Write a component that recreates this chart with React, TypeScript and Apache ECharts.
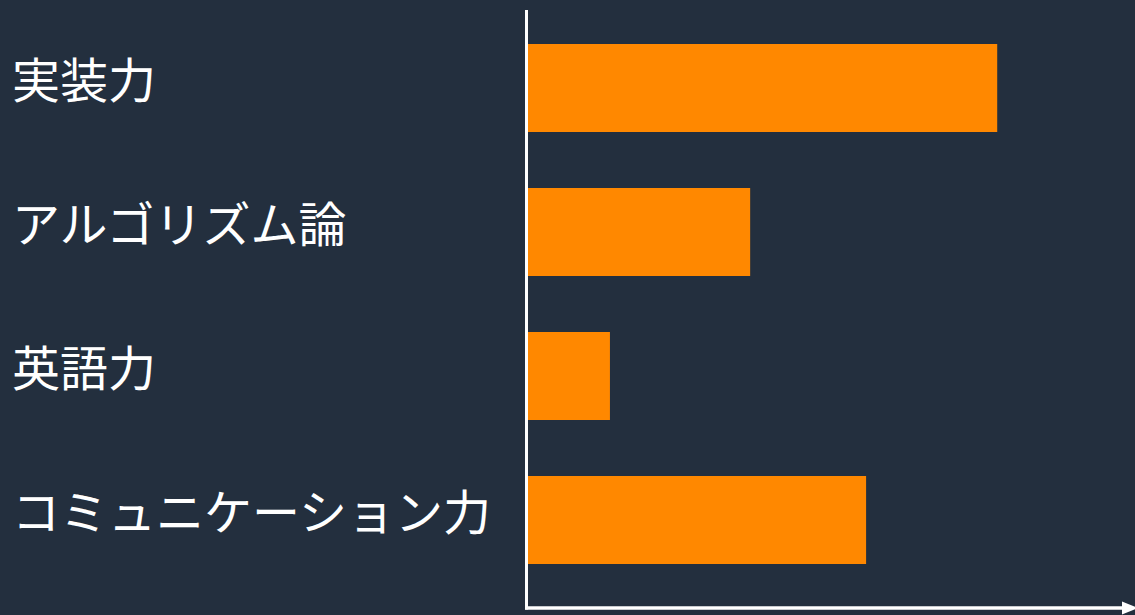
import React, { useEffect, useRef } from "react";
import * as echarts from "echarts";

const categories = ["実装力", "アルゴリズム論", "英語力", "コミュニケーション力"];
const values = [77.3, 36.6, 13.5, 55.7];

export default function App() {
  const ref = useRef<HTMLDivElement>(null);
  useEffect(() => {
    if (!ref.current) return;
    const chart = echarts.init(ref.current, null, { renderer: "svg" });
    chart.setOption({
      animation: false,
      backgroundColor: "#232f3e",
      grid: { left: 528, right: 0, top: 16, height: 576 },
      xAxis: {
        type: "value",
        min: 0,
        max: 100,
        axisLine: { show: false },
        axisTick: { show: false },
        axisLabel: { show: false },
        splitLine: { show: false },
      },
      yAxis: {
        type: "category",
        data: categories,
        inverse: true,
        axisLine: { show: false },
        axisTick: { show: false },
        axisLabel: {
          align: "left",
          verticalAlign: "bottom",
          lineHeight: 22,
          margin: 516,
          color: "#ffffff",
          fontSize: 48,
          fontFamily: "Noto Sans CJK JP",
        },
      },
      series: [
        {
          type: "bar",
          data: values,
          barWidth: 88,
          itemStyle: { color: "#ff8800" },
        },
      ],
      graphic: [
        {
          type: "line",
          shape: { x1: 526.5, y1: 10, x2: 526.5, y2: 609.5 },
          style: { stroke: "#ffffff", lineWidth: 3 },
        },
        {
          type: "line",
          shape: { x1: 525, y1: 608, x2: 1125, y2: 608 },
          style: { stroke: "#ffffff", lineWidth: 3.5 },
        },
        {
          type: "polygon",
          shape: { points: [[1122, 601.5], [1122, 614.5], [1138, 608]] },
          style: { fill: "#ffffff" },
        },
      ],
    });
    return () => chart.dispose();
  }, []);
  return <div ref={ref} style={{ width: 1135, height: 615, position: "fixed", left: 0, top: 0 }} />;
}
